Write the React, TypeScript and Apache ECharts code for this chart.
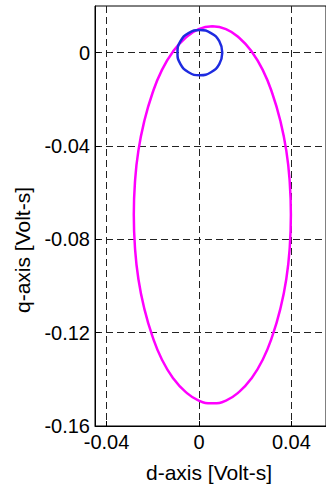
import React, { useEffect, useRef } from "react";
import * as echarts from "echarts";

// Stator flux trajectory in the d-q plane (Volt-s)
const xTicks = [-0.04, 0, 0.04];
const yTicks = [-0.16, -0.12, -0.08, -0.04, 0];

// Large elliptical locus (magenta), traced clockwise from its top
const ellipseD = [
  0.0058, 0.0117, 0.0174, 0.0228, 0.0277, 0.0318, 0.0352, 0.0378, 0.0393, 0.0398,
  0.0393, 0.0378, 0.0352, 0.0318, 0.0277, 0.0228, 0.0174, 0.0117, 0.0058, -0.0001,
  -0.0058, -0.0112, -0.0161, -0.0202, -0.0236, -0.0262, -0.0277, -0.0282, -0.0277,
  -0.0262, -0.0236, -0.0202, -0.0161, -0.0112, -0.0058, -0.0001, 0.0058,
];
const ellipseQ = [
  0.0113, 0.0101, 0.0064, 0.0005, -0.0076, -0.0176, -0.0291, -0.0419, -0.0555, -0.0695,
  -0.0835, -0.0971, -0.1099, -0.1214, -0.1314, -0.1395, -0.1454, -0.1491, -0.1503, -0.1491,
  -0.1454, -0.1395, -0.1314, -0.1214, -0.1099, -0.0971, -0.0835, -0.0695, -0.0555,
  -0.0419, -0.0291, -0.0176, -0.0076, 0.0005, 0.0064, 0.0101, 0.0113,
];

// Small circular locus (blue) around the origin
const circleD = [
  0.0101, 0.0088, 0.0052, 0.0004, -0.0045, -0.008, -0.0093, -0.008, -0.0045, 0.0004,
  0.0052, 0.0088, 0.0101,
];
const circleQ = [
  0.0, 0.0049, 0.0084, 0.0097, 0.0084, 0.0049, 0.0, -0.0049, -0.0084, -0.0097,
  -0.0084, -0.0049, 0.0,
];

const FONT = "'Liberation Sans', Arial, sans-serif";

const fmt = (v: number) => String(parseFloat(v.toFixed(2)));

export default function App() {
  const ref = useRef<HTMLDivElement>(null);

  useEffect(() => {
    if (!ref.current) return;
    const chart = echarts.init(ref.current, null, { renderer: "svg" });

    const pairs = (xs: number[], ys: number[]) => xs.map((x, i) => [x, ys[i]]);
    const dashed = { show: true, lineStyle: { color: "#222", type: [7, 4] as any, width: 1 } };

    chart.setOption({
      animation: false,
      backgroundColor: "#fff",
      grid: {
        left: 95,
        top: 6,
        right: -2,
        bottom: 58,
        show: true,
        borderColor: "#000",
        borderWidth: 1,
        backgroundColor: "transparent",
      },
      xAxis: {
        type: "value",
        min: -0.045,
        max: 0.055,
        axisLine: { show: true, onZero: false, lineStyle: { color: "#000", width: 1 } },
        axisTick: { show: true, inside: true, length: 5, customValues: xTicks, lineStyle: { color: "#000" } },
        axisLabel: {
          customValues: xTicks,
          formatter: fmt,
          color: "#000",
          fontFamily: FONT,
          fontSize: 20,
          margin: 6,
        },
        splitLine: dashed,
      },
      yAxis: {
        type: "value",
        min: -0.16,
        max: 0.02,
        axisLine: { show: true, onZero: false, lineStyle: { color: "#000", width: 1 } },
        axisTick: { show: true, inside: true, length: 5, customValues: yTicks, lineStyle: { color: "#000" } },
        axisLabel: {
          customValues: yTicks,
          formatter: fmt,
          color: "#000",
          fontFamily: FONT,
          fontSize: 20,
          margin: 5,
        },
        splitLine: dashed,
      },
      graphic: [
        {
          type: "text",
          x: 209,
          y: 472,
          style: {
            text: "d-axis [Volt-s]",
            fill: "#000",
            font: `21px ${FONT}`,
            align: "center",
            verticalAlign: "middle",
          },
        },
        {
          type: "text",
          x: 22,
          y: 250,
          rotation: Math.PI / 2,
          style: {
            text: "q-axis [Volt-s]",
            fill: "#000",
            font: `21px ${FONT}`,
            align: "center",
            verticalAlign: "middle",
          },
        },
      ],
      series: [
        {
          type: "line",
          data: pairs(ellipseD, ellipseQ),
          smooth: 0.5,
          showSymbol: false,
          lineStyle: { color: "#ff00ff", width: 2.5 },
          silent: true,
        },
        {
          type: "line",
          data: pairs(circleD, circleQ),
          smooth: 0.5,
          showSymbol: false,
          lineStyle: { color: "#1e2be0", width: 2.5 },
          silent: true,
        },
      ],
    });

    return () => chart.dispose();
  }, []);

  return (
    <div
      ref={ref}
      style={{ position: "absolute", left: 0, top: 0, width: 326, height: 484 }}
    />
  );
}
